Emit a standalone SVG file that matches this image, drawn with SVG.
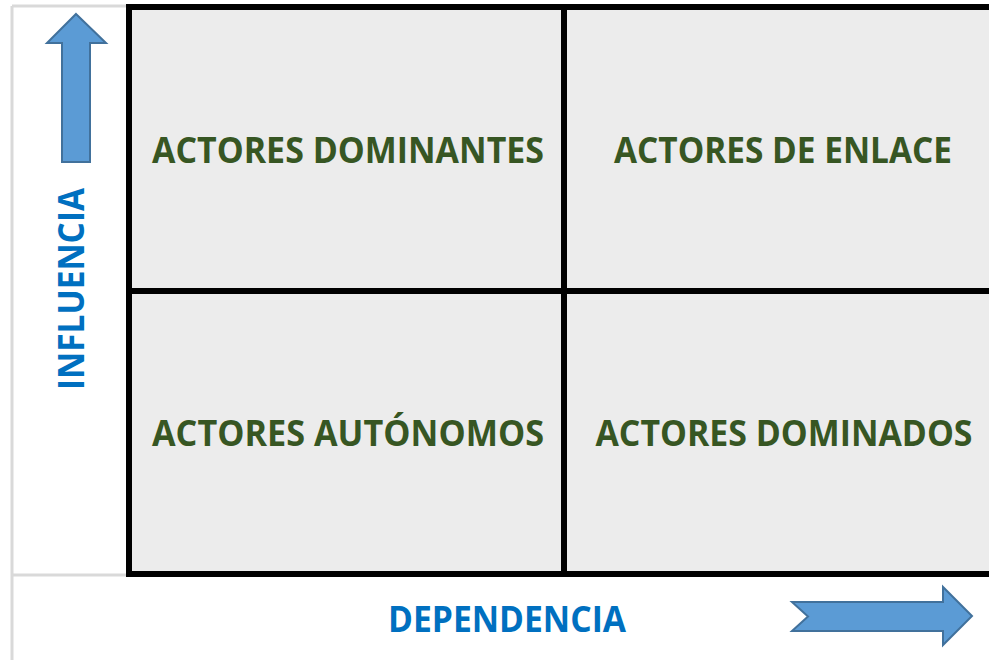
<svg xmlns="http://www.w3.org/2000/svg" width="989" height="660" viewBox="0 0 989 660">
<style>
.lbl{font-family:"Open Sans","Liberation Sans",sans-serif;font-weight:bold;font-size:35px;fill:#375623}
.ax{font-family:"Open Sans","Liberation Sans",sans-serif;font-weight:bold;font-size:36px;fill:#0070c0}
.grid{stroke:#000;stroke-width:6;fill:none}
.frame{stroke:#d9d9d9;stroke-width:3;fill:none}
.arrow{fill:#5b9bd5;stroke:#41719c;stroke-width:2;stroke-linejoin:miter}
</style>
<rect width="989" height="660" fill="#ffffff"/>
<g id="frame">
<path class="frame" d="M12 6 V660 M12 6 H127 M12 575 H127"/>
</g>
<g id="matrix">
<rect x="129" y="7" width="860" height="567" fill="#ececec"/>
</g>
<g id="connectors">
<path class="grid" d="M126 7 H989" stroke-width="4.5"/>
<path class="grid" d="M129 5 V577 M126 574 H989 M129 291 H989 M564 7 V577"/>
</g>
<g id="q-dominantes">
<text class="lbl" x="348" y="163" text-anchor="middle" textLength="392" lengthAdjust="spacingAndGlyphs">ACTORES DOMINANTES</text>
</g>
<g id="q-enlace">
<text class="lbl" x="783" y="163" text-anchor="middle" textLength="338" lengthAdjust="spacingAndGlyphs">ACTORES DE ENLACE</text>
</g>
<g id="q-autonomos">
<text class="lbl" x="348" y="446" text-anchor="middle" textLength="392" lengthAdjust="spacingAndGlyphs">ACTORES AUTÓNOMOS</text>
</g>
<g id="q-dominados">
<text class="lbl" x="784" y="446" text-anchor="middle" textLength="377" lengthAdjust="spacingAndGlyphs">ACTORES DOMINADOS</text>
</g>
<g id="axis-influencia">
<path class="arrow" d="M76 14 L106 43 L90 43 L90 162 L62 162 L62 43 L47 43 Z"/>
<text class="ax" transform="translate(84 289) rotate(-90)" x="0" y="0" text-anchor="middle" textLength="202" lengthAdjust="spacingAndGlyphs">INFLUENCIA</text>
</g>
<g id="axis-dependencia">
<path class="arrow" d="M792 602 L943 602 L943 587 L972 616 L943 645 L943 631 L792 631 L808 616.5 Z"/>
<text class="ax" x="507" y="632" text-anchor="middle" textLength="238" lengthAdjust="spacingAndGlyphs">DEPENDENCIA</text>
</g>
</svg>
